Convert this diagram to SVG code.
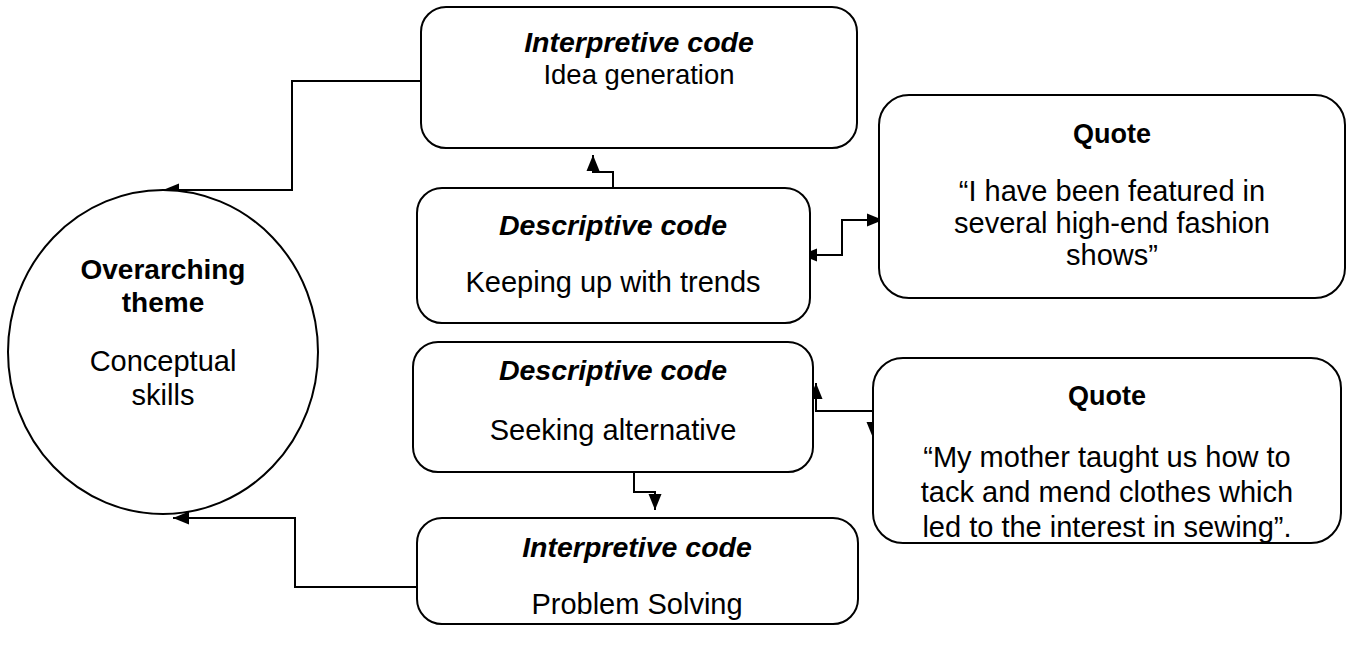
<svg xmlns="http://www.w3.org/2000/svg" width="1352" height="647" viewBox="0 0 1352 647">
<style>
.box{fill:#fff;stroke:#000;stroke-width:2}
.t{font-family:"Liberation Sans",Arial,sans-serif;font-size:29px;fill:#000;text-anchor:middle}
.bi{font-weight:bold;font-style:italic;font-size:28.5px}
.b{font-weight:bold;font-size:28px}
.q{font-weight:bold;font-size:27px}
.c{fill:none;stroke:#000;stroke-width:2}
</style>
<defs>
<marker id="ah" markerUnits="userSpaceOnUse" markerWidth="16" markerHeight="14" refX="16" refY="7" orient="auto-start-reverse" viewBox="0 0 16 14">
<path d="M0,0.5 L16,7 L0,13.5 z" fill="#000"/>
</marker>
</defs>
<rect width="1352" height="647" fill="#fff"/>
<g id="connectors">
<path class="c" d="M421,81 H292 V190 H163" marker-end="url(#ah)"/>
<path class="c" d="M417,587 H295 V518 H173" marker-end="url(#ah)"/>
<path class="c" d="M613,188 V172 H593 V155" marker-end="url(#ah)"/>
<path class="c" d="M801,255 H842 V220 H883" marker-start="url(#ah)" marker-end="url(#ah)"/>
<path class="c" d="M816,383 V411 H873 V438" marker-start="url(#ah)" marker-end="url(#ah)"/>
<path class="c" d="M634,472 V492 H655 V510" marker-end="url(#ah)"/>
</g>
<g id="theme">
<ellipse cx="163" cy="352" rx="155" ry="162" class="box" fill="none"/>
<text class="t b" x="163" y="279">Overarching</text>
<text class="t b" x="163" y="312">theme</text>
<text class="t" x="163" y="371">Conceptual</text>
<text class="t" x="163" y="405">skills</text>
</g>
<g id="idea">
<rect class="box" x="421" y="7" width="436" height="141" rx="25"/>
<text class="t bi" x="639" y="52">Interpretive code</text>
<text class="t" x="639" y="84" style="font-size:27.5px">Idea generation</text>
</g>
<g id="trends">
<rect class="box" x="417" y="188" width="393" height="135" rx="25"/>
<text class="t bi" x="613" y="235">Descriptive code</text>
<text class="t" x="613" y="292">Keeping up with trends</text>
</g>
<g id="quote1">
<rect class="box" x="879" y="95" width="466" height="203" rx="30"/>
<text class="t q" x="1112" y="143">Quote</text>
<text class="t" x="1112" y="201">“I have been featured in</text>
<text class="t" x="1112" y="233">several high-end fashion</text>
<text class="t" x="1112" y="265">shows”</text>
</g>
<g id="alternative">
<rect class="box" x="413" y="342" width="400" height="130" rx="25"/>
<text class="t bi" x="613" y="380">Descriptive code</text>
<text class="t" x="613" y="440">Seeking alternative</text>
</g>
<g id="quote2">
<rect class="box" x="873" y="358" width="468" height="185" rx="30"/>
<text class="t q" x="1107" y="405">Quote</text>
<text class="t" x="1107" y="467">“My mother taught us how to</text>
<text class="t" x="1107" y="502">tack and mend clothes which</text>
<text class="t" x="1107" y="537">led to the interest in sewing”.</text>
</g>
<g id="problem">
<rect class="box" x="417" y="518" width="441" height="106" rx="25"/>
<text class="t bi" x="637" y="557">Interpretive code</text>
<text class="t" x="637" y="614">Problem Solving</text>
</g>
</svg>
